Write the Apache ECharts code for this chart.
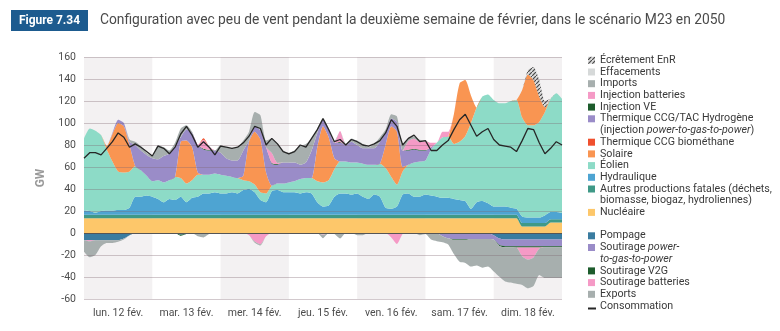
<!DOCTYPE html>
<html><head><meta charset="utf-8">
<script src="https://cdn.jsdelivr.net/npm/echarts@6/dist/echarts.min.js"></script>
<style>html,body{margin:0;padding:0;background:#fff;}#c{width:780px;height:331px;}</style>
</head><body><div id="c"></div>
<script>
// ---- data (GW, one value every 2 hours, 12 feb 00h -> 19 feb 00h) ----
const dayLabels = ['lun. 12 fév.','mar. 13 fév.','mer. 14 fév.','jeu. 15 fév.','ven. 16 fév.','sam. 17 fév.','dim. 18 fév.'];
const stepHours = 2;
const yTicks = [-60,-40,-20,0,20,40,60,80,100,120,140,160];

const nucleaire = [13.5,13.5,13.5,13.5,13.5,13.5,13.5,13.5,13.5,13.5,13.5,13.5,13.5,
 13.5,13.5,13.5,13.5,13.5,13.5,13.5,13.5,13.5,13.5,13.5,13.5,
 13.5,13.5,13.5,13.5,13.5,13.5,13.5,13.5,13.5,13.5,13.5,13.5,
 13.5,13.5,13.5,13.5,13.5,13.5,13.5,13.5,13.5,13.5,13.5,13.5,
 13.5,13.5,13.5,13.5,13.5,13.5,13.5,13.5,13.5,13.5,13.5,13.5,
 13.5,13.5,13.5,13.5,13.5,13.5,13.5,13.5,13.5,13.5,13.5,13.5,
 13.5,13.5,13.5,13.5,6,6,6,6,6,9.5,9.5,9.5];
const autresFatales = [3,3,3,3,3,3,3,3,3,3,3,3,3,
 3,3,3,3,3,3,3,3,3,3,3,3,
 3,3,3,3,3,3,3,3,3,3,3,3,
 3,3,3,3,3,3,3,3,3,3,3,3,
 3,3,3,3,3,3,3,3,3,3,3,3,
 3,3,3,3,3,3,3,3,3,3,3,3,
 3,3,3,3,3,3,3,3,3,3,3,3];
const hydraulique = [4,3.5,2,3.5,4,4,4.5,4.5,6.5,16.5,16.5,17.5,16.5,
 14.5,11.5,14.5,13.5,16.5,11.5,15.5,16.5,19.5,19.5,20.5,19.5,
 19.5,20.5,19.5,22.5,23.5,20.5,13.5,11.5,21.5,22.5,20.5,20.5,
 20.5,19.5,20.5,19.5,11.5,7.5,8.5,16.5,19.5,19.5,18.5,19.5,
 16.5,14.5,18.5,16.5,6.5,5.5,7.5,18.5,19.5,16.5,16.5,18.5,
 17.5,16.5,15.5,15.5,14.5,13.5,12.5,5.5,11.5,12.5,10.5,7.5,
 7.5,7.5,6.5,5.5,6,5,5,5,7,6.5,6.5,5.5];
const eolien = [65.5,75,74.5,69,55.5,44.5,35,34,33,28,24,18,14,
 17,18,17,21,17,17,16,20,17,17,17,17,
 16,14,14,9,7,7,7,8,5,6,8,9,
 10,13,13,14,19,22,23,25,29,29,29,28,
 30,31,27,30,36,29,20,21,26,31,32,31,
 42,49,55,56,50,53,59,78,86,95,99,97,
 94,94,97,99,90,84,84,87,94,103,108,104];
const solaire = [0,0,0,0,3,25,44,42,24,0,0,0,0,
 0,0,0,0,33,39,30,2,0,0,0,0,
 0,0,0,4,36,48,48,19,0,0,0,0,
 0,0,0,0,31,51,39,10,0,0,0,0,
 0,0,0,0,21,46,48,4,0,0,0,0,
 0,0,0,0,27,53,51,25,0,0,0,0,
 0,0,0,0,25,46,41,23,4,0,0,0];
const thermiqueBiomethane = [0,0,0,0,0,0,0,0,0,0,0,0,0,
 0,0,0,0,0,0,0,0,1.5,0,0,0,
 0,0,0,0,0,0,0,0,0,0,0,0,
 0,0,0,0,0,0,0,0,0,0,0,0,
 0,0,0,0,0,0,0,0,0,0,0,0,
 0,0,0,0,0,0,0,0,0,0,0,0,
 0,0,0,0,0,0,0,0,0,0,0,0];
const thermiqueH2 = [0,0,0,0,0,1,3,3,3,19,18,19,21,
 19,24,24,28,4,10,13,25,23,22,21,20,
 16,15,16,23,1,5,8,23,20,17,19,18,
 17,13,14,25,13,6,7,14,17,15,19,16,
 14,15,15,20,11,7,9,15,13,12,10,9,
 2,0,0,0,0,0,0,0,0,0,0,0,
 0,0,0,0,0,0,0,0,0,0,0,0];
const injectionVE = [0,0,0,0,0,0,0,0,0,0,0,0,0,
 0,0,0,0,0,0,0,0,0.7,0.7,0,0,
 0,0,0,0,0,0,0,0,0.7,0.7,0,0,
 0,0,0,0,0,0,0,0,0.7,0,0,0,
 0,0,0,0,0,0,0,0,0.7,0.7,0.7,0.5,
 0,0,0,0,0,0,0,0,0,0,0,0,
 0,0,0,0,0,0,0,0,0,0,0,0];
const injectionBatteries = [0,0,0,0,0,0,0,0,0,0,0,0,0,
 0,0,0,0,0,0,0,0,8,3,0,0,
 0,0,0,0,0,0,0,0,9,1,0,0,
 0,0,0,0,0,0,0,0,10,0,0,0,
 0,0,0,0,0,0,0,0,8,9,7,8,
 4,0,5,4,0,0,0,0,0,0,0,0,
 0,0,0,0,0,0,0,0,0,0,0,0];
const imports = [0,0,0,0,0,0,0,0,2,3,4,2,2,
 13,8,3,3,8,4,1,0,0,0,0,7,
 10,11,12,9,8,13,14,6,13,18,11,9,
 11,17,17,11,4,1,1,1,0,1,3,4,
 4,1,4,4,3,4,5,5,2,2,2,0,
 0,0,0,0,0,0,0,0,0,0,0,0,
 0,0,0,0,0,0,0,0,0,0,0,0];
const effacements = [0,0,0,0,0,0,0,0,0,0,0,0,0,
 0,0,0,0,0,0,0,0,0,0,0,0,
 0,0,0,0,0,0,0,0,0,0,0,0,
 0,0,0,0,0,0,0,0,0,0,0,0,
 0,0,0,0,0,0,0,0,0,0,0,0,
 0,0,0,0,0,0,0,0,0,0,0,0,
 0,0,0,0,0,0,0,0,0,0,0,0];
const ecretement = [0,0,0,0,0,0,0,0,0,0,0,0,0,
 0,0,0,0,0,0,0,0,0,0,0,0,
 0,0,0,0,0,0,0,0,0,0,0,0,
 0,0,0,0,0,0,0,0,0,0,0,0,
 0,0,0,0,0,0,0,0,0,0,0,0,
 0,0,0,0,0,0,0,0,0,0,0,0,
 0,0,0,0,0,4,12,15,6,0,0,0];
const pompage = [-6.5,-6.5,-6.5,-6.5,-6.5,-6.5,-6.5,-5,-2,0,0,0,0,
 0,0,0,0,-1.5,-1,0,0,0,0,0,0,
 0,0,0,0,0,0,0,0,0,0,0,0,
 0,0,0,0,0,0,0,0,0,0,0,0,
 0,0,0,0,0,0,0,0,0,0,0,0,
 0,0,0,0,0,0,0,0,0,0,0,-2,
 -5,-6,-6,-6,-6,-6,-6,-6,-6,-6,-6,-6];
const soutirageP2G = [0,0,0,0,0,0,0,0,0,0,0,0,0,
 0,0,0,0,0,0,0,0,0,0,0,0,
 0,0,0,0,0,0,0,0,0,0,0,0,
 0,0,0,0,0,0,0,0,0,0,0,0,
 0,0,0,0,0,0,0,0,0,0,0,0,
 0,0,-3,-5,-5.5,-5.5,-5.5,-5.5,-5.5,-5.5,-5.5,-4,
 -6,-6,-6,-6,-6,-6,-6,-6,-6,-6,-6,-6];
const soutirageV2G = [0,0,0,0,0,0,0,0,0,0,0,0,0,
 0,0,0,0,-1,0,0,0,0,0,0,0,
 0,0,0,0,0,-0.8,-0.8,0,0,0,0,0,
 0,0,0,0,0,-0.7,0,0,0,0,0,0,
 0,0,0,0,0,0,-1,0,0,0,0,0,
 0,0,0,0,-0.7,-0.7,-0.7,0,0,0,0,0,
 -0.8,-1,-1,-1.2,-1.2,-1.2,-1.2,-1.2,-1,-1,-1,-1];
const soutirageBatteries = [0,-1,0,0,0,0,0,0,0,0,0,0,0,
 0,0,0,0,0,0,0,0,0,0,0,0,
 0,0,0,0,-2,-7,-9.5,-3,0,0,0,0,
 0,0,0,0,0,-1,0,0,0,0,0,0,
 0,0,0,0,0,-4,-9,-1,0,0,0,0,
 0,0,0,0,0,0,0,0,0,0,0,0,
 0,0,0,0,-8,-11,-9,-1,0,0,0,0];
const exportsGW = [-10.5,-14.5,-13.5,-5.5,-2.5,-2.5,-1.5,-1,0,0,0,0,0,
 0,0,0,0,0,0,0,-3,-4,-1,0,0,
 0,0,0,0,0,-1,-1,0,0,0,0,0,
 0,0,0,0,0,-3,0,-1,-5,0,0,-2,
 -2,0,0,0,0,0,0,0,0,0,-2,-1,
 -6,-7.5,-5.5,-5.5,-13,-20,-21,-25,-24,-26,-25,-29,
 -28,-31,-32,-33,-26,-26,-26,-24,-28,-28,-28,-28];
const consommation = [68,73,73,71,77,83,91,87,78,81,78,74,70,
 79,77,72,78,90,97,89,78,83,78,71,79,
 78,77,78,82,88,97,95,80,86,81,74,72,
 74,80,78,86,94,104,94,83,85,80,85,83,
 80,79,81,84,91,103,97,80,86,89,83,84,
 75,75,80,84,94,103,108,98,88,92,95,85,
 80,79,78,74,84,95,94,82,72,77,83,80];
const shadedDays = [0,2,4,6];

// ---- chart ----
const FONT = 'Roboto';
const stepsPerDay = 24 / stepHours;
const timeCats = nucleaire.map((_, i) => {
  const h = i * stepHours, d = Math.floor(h / 24);
  return (d < 7 ? dayLabels[d] : 'lun. 19 fév.') + ' ' + (h % 24) + 'h';
});

const pat = document.createElement('canvas');
pat.width = 4; pat.height = 4;
(function(){ const g = pat.getContext('2d'); g.fillStyle = '#dcdcdc'; g.fillRect(0,0,4,4);
  g.strokeStyle = '#4a4a4a'; g.lineWidth = 1.2; g.beginPath(); g.moveTo(-1,5); g.lineTo(5,-1); g.stroke(); })();
const hatch = {image: pat, repeat: 'repeat'};

const C = {
  eff: '#d6d9d9', imp: '#a7afae', injBat: '#f59ac6', injVE: '#1d5c2c',
  h2: '#9a8cc8', bio: '#f0502e', sol: '#f99552', eol: '#8ddbc7', hyd: '#4ea4d2',
  aut: '#3f9987', nuc: '#fdc76a', pom: '#3a7ca0', sP2G: '#9a8cc8', sV2G: '#1d5c2c',
  sBat: '#f59ac6', exp: '#a7afae', cons: '#262626'
};

function area(name, arr, color, stack) {
  return {
    name, type: 'line', stack, stackStrategy: 'samesign', data: arr,
    symbol: 'none', showSymbol: false, smooth: 0.2, silent: true,
    lineStyle: {width: 0, opacity: 0}, areaStyle: {color: color, opacity: 1},
    itemStyle: {color: color}, z: 2
  };
}

const series = [
  area('Nucléaire', nucleaire, C.nuc, 'pos'),
  area('Autres productions fatales', autresFatales, C.aut, 'pos'),
  area('Hydraulique', hydraulique, C.hyd, 'pos'),
  area('Éolien', eolien, C.eol, 'pos'),
  area('Solaire', solaire, C.sol, 'pos'),
  area('Thermique CCG/TAC Hydrogène', thermiqueH2, C.h2, 'pos'),
  area('Injection VE', injectionVE, C.injVE, 'pos'),
  area('Injection batteries', injectionBatteries, C.injBat, 'pos'),
  area('Thermique CCG biométhane', thermiqueBiomethane, C.bio, 'pos'),
  area('Imports', imports, C.imp, 'pos'),
  area('Effacements', effacements, C.eff, 'pos'),
  area('Écrêtement EnR', ecretement, hatch, 'pos'),
  area('Pompage', pompage, C.pom, 'neg'),
  area('Soutirage power-to-gas-to-power', soutirageP2G, C.sP2G, 'neg'),
  area('Soutirage V2G', soutirageV2G, C.sV2G, 'neg'),
  area('Soutirage batteries', soutirageBatteries, C.sBat, 'neg'),
  area('Exports', exportsGW, C.exp, 'neg'),
  {
    name: 'jours', type: 'line', data: [], silent: true, z: 3, symbol: 'none',
    markArea: { silent: true, itemStyle: {color: 'rgba(95,70,85,0.075)'},
      data: shadedDays.map(d => [{xAxis: timeCats[d * stepsPerDay]}, {xAxis: timeCats[(d + 1) * stepsPerDay]}]) },
    markLine: { silent: true, symbol: 'none', label: {show: false},
      lineStyle: {color: '#555', width: 1, type: 'solid'}, data: [{yAxis: 0}] }
  },
  {
    name: 'Consommation', type: 'line', data: consommation, symbol: 'none',
    showSymbol: false, silent: true, z: 6,
    lineStyle: {color: C.cons, width: 1.3}, itemStyle: {color: C.cons}
  }
];

// ---- legend drawn as graphic ----
const legendItems = [
  {t: 'Écrêtement EnR', c: hatch, r: 0},
  {t: 'Effacements', c: C.eff, r: 1},
  {t: 'Imports', c: C.imp, r: 2},
  {t: 'Injection batteries', c: C.injBat, r: 3},
  {t: 'Injection VE', c: C.injVE, r: 4},
  {t: 'Thermique CCG/TAC Hydrogène\n(injection {i|power-to-gas-to-power})', c: C.h2, r: 5},
  {t: 'Thermique CCG biométhane', c: C.bio, r: 7},
  {t: 'Solaire', c: C.sol, r: 8},
  {t: 'Éolien', c: C.eol, r: 9},
  {t: 'Hydraulique', c: C.hyd, r: 10},
  {t: 'Autres productions fatales (déchets,\nbiomasse, biogaz, hydroliennes)', c: C.aut, r: 11},
  {t: 'Nucléaire', c: C.nuc, r: 13},
  {t: 'Pompage', c: C.pom, r: 15},
  {t: 'Soutirage {i|power-}\n{i|to-gas-to-power}', c: C.sP2G, r: 16},
  {t: 'Soutirage V2G', c: C.sV2G, r: 18},
  {t: 'Soutirage batteries', c: C.sBat, r: 19},
  {t: 'Exports', c: C.exp, r: 20},
  {t: 'Consommation', c: 'line', r: 21}
];
const LX = 588, LY0 = 60.3, LSTEP = 11.7, LFS = 10.7;
const legendGraphics = [];
legendItems.forEach(it => {
  const cy = LY0 + it.r * LSTEP;
  if (it.c === 'line') {
    legendGraphics.push({type: 'line', shape: {x1: LX, y1: cy + 2.5, x2: LX + 8, y2: cy + 2.5},
      style: {stroke: C.cons, lineWidth: 2}});
  } else {
    legendGraphics.push({type: 'rect', shape: {x: LX, y: cy - 3.5, width: 7, height: 7},
      style: {fill: it.c}});
  }
  legendGraphics.push({type: 'text', x: 600, y: cy - LSTEP / 2,
    style: {text: it.t, fill: '#3a3a3a', font: LFS + 'px ' + FONT, lineHeight: LSTEP,
      verticalAlign: 'top', align: 'left',
      rich: {i: {fontStyle: 'italic', fontSize: LFS, fontFamily: FONT, fill: '#3a3a3a', lineHeight: LSTEP}}}});
});

const chart = echarts.init(document.getElementById('c'), null, {renderer: 'canvas'});
chart.setOption({
  animation: false,
  backgroundColor: '#ffffff',
  textStyle: {fontFamily: FONT},
  grid: {left: 84, right: 218, top: 57, bottom: 32, containLabel: false},
  xAxis: {
    type: 'category', data: timeCats, boundaryGap: false,
    axisLine: {show: false}, axisTick: {show: false}, splitLine: {show: false},
    axisLabel: {color: '#4d4d4d', fontSize: 10.5, margin: 9, fontFamily: FONT, hideOverlap: false,
      interval: (idx) => idx % stepsPerDay === stepsPerDay / 2,
      formatter: (v, idx) => dayLabels[Math.floor(idx / stepsPerDay)]}
  },
  yAxis: {
    type: 'value', min: yTicks[0], max: yTicks[yTicks.length - 1], interval: 20, z: 4,
    name: 'GW', nameLocation: 'middle', nameGap: 36, nameRotate: 90,
    nameTextStyle: {color: '#9a9a9a', fontWeight: 'bold', fontSize: 12, fontFamily: FONT},
    axisLine: {show: false}, axisTick: {show: false},
    axisLabel: {color: '#4d4d4d', fontSize: 10.5, margin: 8, fontFamily: FONT},
    splitLine: {lineStyle: {color: 'rgba(125,100,112,0.35)', width: 1}}
  },
  series: series,
  graphic: [
    {type: 'rect', shape: {x: 11, y: 10, width: 77, height: 21}, style: {fill: '#1d5b8f'}},
    {type: 'text', x: 49.5, y: 20.5, style: {text: 'Figure 7.34', fill: '#ffffff',
      font: 'bold 12px ' + FONT, align: 'center', verticalAlign: 'middle'}},
    {type: 'text', x: 100, y: 20.5, style: {text: 'Configuration avec peu de vent pendant la deuxième semaine de février, dans le scénario M23 en 2050',
      fill: '#4a4a4a', font: '13.8px ' + FONT, align: 'left', verticalAlign: 'middle'}}
  ].concat(legendGraphics)
});
</script>
</body></html>
